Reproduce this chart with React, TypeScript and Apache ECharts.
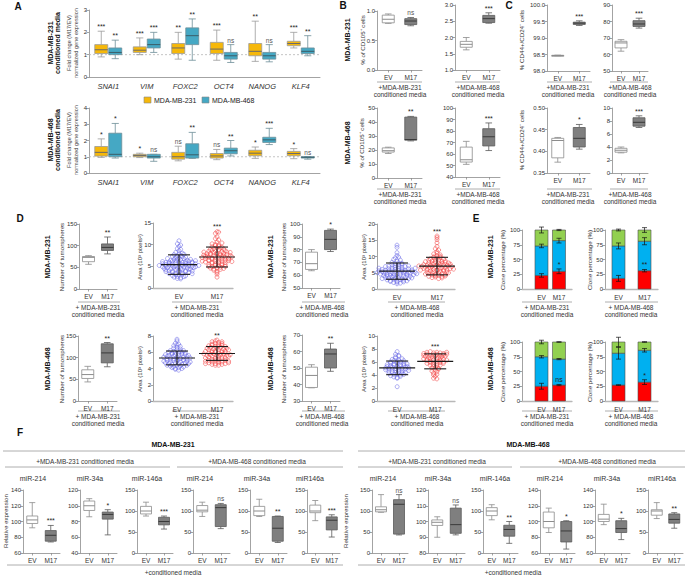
import React, { useEffect, useRef } from "react";
import * as echarts from "echarts";

const FONT = '"Liberation Sans", Arial, Helvetica, sans-serif';
const AX = "#8c8c8c";
const TXT = "#333333";
const YELLOW = "#F6B80A";
const BLUE = "#45A8C4";

// ---------- Panel A ----------
const genes = ["SNAI1", "VIM", "FOXC2", "OCT4", "NANOG", "KLF4"];
const aTickA1 = [0, 3, 1];
const a231Yellow = [[0.9, 1.05, 1.22, 1.45, 2.05], [1.0, 1.1, 1.2, 1.35, 1.75], [0.8, 1.05, 1.3, 1.5, 2.0], [0.75, 1.05, 1.25, 1.55, 2.1], [0.7, 0.95, 1.15, 1.5, 2.5], [1.3, 1.4, 1.5, 1.6, 2.0]];
const a231Blue = [[0.82, 1.0, 1.1, 1.3, 1.65], [1.1, 1.3, 1.45, 1.7, 2.0], [0.75, 1.45, 1.85, 2.2, 2.6], [0.65, 0.8, 0.95, 1.1, 1.45], [0.68, 0.8, 0.95, 1.1, 1.45], [0.95, 1.05, 1.15, 1.3, 1.85]];
const a231SigY = ["***", "***", "**", "***", "**", "***"];
const a231SigB = ["**", "***", "**", "ns", "ns", "**"];
const aTickA2 = [0, 4, 1];
const a468Yellow = [[0.96, 1.04, 1.27, 1.63, 2.1], [0.95, 1.0, 1.08, 1.15, 1.22], [0.75, 0.85, 1.0, 1.27, 1.65], [0.82, 0.92, 1.05, 1.2, 1.45], [0.9, 1.06, 1.22, 1.4, 1.6], [0.88, 1.06, 1.2, 1.33, 1.5]];
const a468Blue = [[0.92, 1.0, 1.15, 2.45, 3.05], [0.72, 0.92, 1.0, 1.15, 1.15], [0.9, 0.92, 1.12, 1.8, 2.5], [1.05, 1.18, 1.37, 1.53, 2.0], [1.75, 1.88, 2.04, 2.2, 2.75], [0.85, 0.92, 0.97, 1.0, 1.0]];
const a468SigY = ["*", "*", "ns", "ns", "*", "*"];
const a468SigB = ["*", "ns", "**", "**", "***", "ns"];

// ---------- Panels B, C (box: [min,q1,median,q3,max] for EV, M17) ----------
const groups = ["EV", "M17"];
const b231_231 = [[0.79, 0.8, 0.86, 0.93, 0.95], [0.75, 0.77, 0.83, 0.87, 0.89]];
const b231_468 = [[1.62, 1.7, 1.79, 1.88, 2.0], [2.44, 2.46, 2.58, 2.68, 2.76]];
const b468_231 = [[17.5, 18.5, 19.5, 21.5, 22], [26.5, 27, 27.5, 43.5, 44]];
const b468_468 = [[51, 53, 55, 66, 71], [63, 67, 75, 82, 87]];
const bSig = ["ns", "***", "**", "***"];
const c231_231 = [[98.46, 98.465, 98.47, 98.475, 98.48], [99.38, 99.41, 99.45, 99.48, 99.52]];
const c231_468 = [[62, 64, 67, 68, 69], [76, 77, 78.5, 80.5, 82]];
const c468_231 = [[0.375, 0.385, 0.425, 0.43, 0.432], [0.405, 0.41, 0.43, 0.455, 0.462]];
const c468_468 = [[3.1, 3.2, 3.5, 3.8, 4.0], [7.0, 7.2, 7.8, 8.5, 8.8]];
const cSig = ["***", "***", "*", "***"];

// ---------- Panel D ----------
const d231_231 = [[57, 63, 73, 75, 77], [81, 89, 96, 104, 120]];
const d231_468 = [[63.5, 64.5, 69, 78, 80], [78.5, 80, 88, 95, 96]];
const d468_231 = [[44, 52, 61, 72, 80], [79, 88, 111, 132, 135]];
const d468_468 = [[38, 38.2, 45.5, 50.5, 52], [48, 50, 58.5, 61.5, 65]];
const dBoxSig = ["**", "*", "**", "**"];

const area231_231EV = [5.2, 3.8, 6.1, 4.5, 7.3, 2.9, 5.6, 4.9, 6.8, 3.3, 5.0, 8.2, 4.2, 5.9, 6.4, 2.5, 4.7, 5.4, 7.0, 3.6, 6.0, 4.4, 5.7, 9.1, 3.1, 5.3, 6.6, 4.0, 7.7, 4.8, 5.5, 2.2, 6.2, 3.9, 5.1, 8.6, 4.6, 6.9, 3.4, 5.8, 7.4, 4.3, 6.3, 2.7, 5.0, 10.9, 4.1, 6.7, 3.7, 5.6, 7.9, 4.9, 6.0, 3.0, 5.2, 9.6, 4.5, 6.5, 3.5, 5.9, 7.2, 4.2, 5.4, 2.4, 6.1, 8.0, 4.8, 5.3, 3.2, 6.8, 4.6, 5.7, 10.2, 3.8, 6.4, 4.0, 5.1, 7.5, 2.8, 5.5, 4.4, 6.2, 8.9, 3.6, 5.8, 4.7, 6.6, 3.3, 5.0, 7.1, 4.3, 6.0, 2.6, 5.6, 9.9, 4.9, 6.3, 3.9, 5.2, 7.8, 2.1];
const area231_231M17 = [7.0, 5.4, 8.3, 6.2, 9.5, 4.1, 7.6, 6.8, 10.2, 5.0, 7.3, 8.9, 6.5, 11.4, 4.6, 7.9, 6.0, 8.5, 5.7, 9.1, 7.1, 12.6, 4.9, 6.7, 8.0, 5.2, 7.4, 9.8, 6.3, 3.9, 7.7, 8.7, 5.9, 10.6, 6.9, 7.2, 4.4, 8.2, 6.1, 9.3, 5.5, 7.5, 12.9, 6.6, 8.6, 3.2, 7.0, 5.8, 9.6, 6.4, 8.1, 4.7, 7.8, 10.0, 6.0, 7.3, 5.1, 8.8, 6.8, 11.8, 4.3, 7.6, 9.2, 5.6, 8.4, 6.2, 7.1, 2.5, 9.9, 5.3, 7.9, 6.5, 8.0, 4.8, 10.4, 6.9, 7.4, 5.9, 9.0, 3.6, 8.3, 6.7, 7.2, 11.1, 5.0, 8.6, 6.3, 7.7, 4.5, 9.4, 13.0, 6.1, 8.2, 5.4, 7.5];
const area231_468EV = [5.0, 3.2, 6.4, 4.1, 7.5, 2.3, 5.6, 4.6, 8.2, 3.6, 5.3, 6.9, 2.8, 4.9, 6.0, 3.9, 9.1, 5.2, 2.0, 4.4, 7.0, 5.8, 3.4, 6.5, 4.8, 10.3, 2.6, 5.5, 7.8, 3.7, 6.2, 4.2, 5.1, 8.6, 3.0, 5.9, 4.7, 13.5, 6.7, 2.4, 5.4, 4.0, 7.2, 3.3, 6.1, 4.5, 9.6, 2.1, 5.7, 4.9, 6.8, 3.8, 5.0, 11.2, 2.9, 6.3, 4.3, 7.4, 3.5, 5.6, 1.8, 8.0, 4.6, 6.6, 3.1, 5.3, 12.8, 4.8, 6.0, 2.7, 7.6, 4.1, 5.8, 3.6, 6.9, 2.2, 5.2, 8.9, 4.4, 6.2, 3.2, 5.5, 9.8, 4.0, 7.1, 2.5, 5.9, 3.9, 6.4, 1.6, 4.7, 7.9, 5.1, 3.4];
const area231_468M17 = [7.1, 4.6, 8.4, 5.8, 9.9, 3.9, 7.5, 6.3, 10.8, 5.1, 7.0, 8.8, 4.3, 6.7, 9.3, 5.5, 12.4, 7.2, 3.5, 6.0, 8.1, 6.6, 4.8, 9.6, 5.3, 15.8, 7.8, 4.1, 6.9, 8.6, 5.7, 11.5, 7.3, 3.7, 6.4, 9.0, 5.0, 7.7, 14.2, 6.1, 8.3, 4.5, 7.4, 10.1, 5.9, 6.8, 3.2, 8.9, 6.2, 13.1, 7.6, 4.9, 9.4, 5.4, 7.0, 11.0, 6.5, 8.0, 4.2, 7.9, 15.2, 5.6, 9.7, 6.6, 3.4, 8.5, 7.1, 4.7, 10.5, 6.0, 12.0, 5.2, 8.2, 6.9, 3.9, 7.4, 9.2, 5.8, 6.3, 16.3, 4.4, 8.7, 7.2, 5.0, 10.0, 6.8, 4.0, 8.0, 6.1, 7.7];
const area468_231EV = [5.2, 4.4, 6.0, 4.9, 5.7, 4.1, 5.4, 6.5, 4.7, 5.0, 5.9, 4.3, 5.5, 6.2, 4.6, 5.1, 7.4, 4.0, 5.6, 6.8, 4.8, 5.3, 6.1, 3.9, 5.8, 4.5, 5.0, 7.1, 4.9, 5.5, 6.3, 4.2, 5.2, 6.0, 4.7, 5.7, 3.8, 5.4, 6.6, 4.6, 5.1, 7.6, 4.4, 5.3, 5.9, 4.8, 6.4, 5.0, 4.3, 5.6, 6.9, 4.5, 5.2, 6.1, 4.1, 5.8, 4.9, 5.4, 7.0, 4.7, 5.5, 6.2, 4.2, 5.1, 5.7, 4.6, 6.0, 5.3, 4.0, 5.9, 6.7, 4.8, 5.2, 4.4, 5.6];
const area468_231M17 = [5.8, 4.9, 6.5, 5.3, 7.0, 4.6, 6.1, 5.6, 6.8, 5.0, 5.9, 7.3, 4.7, 6.3, 5.4, 6.6, 4.5, 5.7, 7.1, 5.1, 6.0, 6.9, 4.8, 5.5, 6.4, 7.4, 5.2, 6.2, 4.4, 5.8, 6.7, 5.0, 6.0, 7.2, 4.6, 5.6, 6.5, 5.3, 7.5, 4.9, 6.1, 5.7, 6.8, 4.7, 5.9, 6.3, 5.1, 7.0, 4.5, 5.5, 6.6, 5.4, 6.2, 4.8, 5.8, 7.3, 5.2, 6.4, 4.6, 6.0, 5.6, 6.9, 5.0, 6.1, 4.4, 5.7, 7.1, 5.3, 6.3, 4.9, 5.9, 6.7, 5.5, 4.7, 6.5];
const area468_468EV = [5.1, 4.3, 6.0, 4.8, 5.6, 3.9, 5.3, 6.4, 4.5, 5.0, 5.8, 4.1, 5.4, 6.2, 4.6, 7.2, 3.7, 5.2, 6.6, 4.9, 5.5, 2.2, 6.1, 4.4, 5.0, 7.6, 4.7, 5.7, 3.6, 5.3, 6.3, 4.2, 5.1, 5.9, 4.8, 6.8, 4.0, 5.4, 5.0, 4.5, 6.0, 3.8, 5.6, 7.0, 4.6, 5.2, 6.5, 4.3, 5.5, 4.9, 5.8, 3.5, 6.2, 5.1, 4.7, 6.9, 4.1, 5.3, 5.7, 4.4];
const area468_468M17 = [6.5, 5.1, 7.0, 5.8, 7.3, 4.6, 6.2, 6.9, 5.5, 7.5, 4.0, 6.7, 5.9, 7.2, 5.3, 6.4, 7.6, 4.8, 6.1, 7.0, 3.5, 6.6, 5.6, 7.4, 6.0, 4.3, 6.8, 7.1, 5.2, 6.3, 7.5, 5.7, 6.9, 3.8, 6.5, 7.2, 5.0, 6.1, 7.4, 5.9, 6.7, 4.5, 7.0, 6.2, 5.4, 7.3, 6.6, 3.4, 5.8, 7.1, 6.4, 4.9, 6.8, 7.5, 5.5, 6.0, 7.2, 4.1, 6.3, 6.9];
// mean, SD (EV, M17)
const areaMeanSd231_231 = [[5.4, 2.25], [7.15, 2.3]];
const areaMeanSd231_468 = [[5.5, 2.5], [7.05, 2.7]];
const areaMeanSd468_231 = [[5.3, 0.85], [5.85, 0.85]];
const areaMeanSd468_468 = [[5.1, 1.05], [6.1, 1.15]];
const dAreaSig = ["***", "***", "**", "***"];

// ---------- Panel E (red, blue, green segments in %, and their error bars) ----------
const e231_231Seg = [[23, 50, 27], [30, 52, 18]];
const e231_231Err = [[3, 3, 5], [4, 4, 1]];
const e231_468Seg = [[18, 55, 27], [31, 50, 19]];
const e231_468Err = [[5, 5, 1.5], [2, 6, 4]];
const e468_231Seg = [[25, 50, 25], [27, 44, 29]];
const e468_231Err = [[5, 2, 3], [1, 1, 0.5]];
const e468_468Seg = [[27, 54, 19], [32, 54, 14]];
const e468_468Err = [[0.5, 10, 8], [4, 3, 0.5]];
const eSig = ["*", "**", "ns", "*"];

// ---------- Panel F ----------
const fTitles = ["miR-214", "miR-34a", "miR-146a", "miR-214", "miR-34a", "miR146a"];
const f231Boxes = [
  [[92, 97.5, 102, 107, 124], [74, 75, 82.5, 88.5, 95]],
  [[86, 94, 100, 106, 109], [63, 83, 89, 92, 95]],
  [[88, 93, 100, 111, 121], [57, 67, 75, 85, 88]],
  [[87, 98, 102, 113, 121], [58, 63, 108, 115, 118]],
  [[87, 89, 100, 111, 128], [25, 28, 59, 87, 88]],
  [[77, 96, 100, 114, 125], [38, 55, 78, 86, 91]],
];
const f231Sig = ["***", "*", "***", "ns", "**", "***"];
const f231Axes = [[60, 140, 20], [40, 120, 20], [0, 150, 50], [0, 150, 50], [0, 150, 50], [0, 150, 50]];
const f468Boxes = [
  [[97, 98, 103, 110, 139], [43, 45, 116, 127, 139]],
  [[90, 97.5, 99.5, 101, 103], [91.5, 92.5, 98, 108.5, 110.5]],
  [[79, 89, 100, 108, 115], [23, 40, 56, 66, 75]],
  [[86, 92, 100, 112, 117], [65, 74, 88, 100, 101]],
  [[96, 100, 103, 109, 122], [77, 86, 91, 101, 104]],
  [[82, 90, 100, 103, 120], [59, 71, 80, 93, 96]],
];
const f468Sig = ["ns", "ns", "**", "*", "*", "**"];
const f468Axes = [[0, 150, 50], [80, 120, 10], [0, 150, 50], [60, 140, 20], [60, 140, 20], [0, 150, 50]];

// ---------- helpers ----------
const pick = (v: any, i: number) => (Array.isArray(v) ? v[i] : v);

function boxSeries(gi: number, boxes: number[][], cfg: any) {
  return {
    type: "custom", xAxisIndex: gi, yAxisIndex: gi, silent: true, clip: false, z: 3,
    data: boxes.map((b, i) => [i, ...b]),
    renderItem: (params: any, api: any) => {
      const i = params.dataIndex;
      const c = api.value(0);
      const Y = (k: number) => api.coord([c, api.value(k)])[1];
      const x = api.coord([c, api.value(3)])[0] + (cfg.offset || 0);
      const w = cfg.width, cw = w * 0.55;
      const yMin = Y(1), yQ1 = Y(2), yMed = Y(3), yQ3 = Y(4), yMax = Y(5);
      const stroke = pick(cfg.stroke, i), fill = pick(cfg.fill, i), med = pick(cfg.median, i);
      const ls = { stroke, lineWidth: 0.8 };
      const ch: any[] = [
        { type: "line", shape: { x1: x, y1: yMax, x2: x, y2: yQ3 }, style: ls },
        { type: "line", shape: { x1: x, y1: yQ1, x2: x, y2: yMin }, style: ls },
        { type: "line", shape: { x1: x - cw / 2, y1: yMax, x2: x + cw / 2, y2: yMax }, style: ls },
        { type: "line", shape: { x1: x - cw / 2, y1: yMin, x2: x + cw / 2, y2: yMin }, style: ls },
        { type: "rect", shape: { x: x - w / 2, y: yQ3, width: w, height: Math.max(yQ1 - yQ3, 1) }, style: { fill, stroke, lineWidth: 0.8 } },
        { type: "line", shape: { x1: x - w / 2, y1: yMed, x2: x + w / 2, y2: yMed }, style: { stroke: med, lineWidth: 1 } },
      ];
      const s = cfg.sig ? cfg.sig[i] : "";
      if (s) ch.push({ type: "text", x, y: yMax - 1, style: { text: s, align: "center", verticalAlign: "bottom", fontSize: s === "ns" ? 6.5 : 7, fontFamily: FONT, fill: s === "ns" ? "#555" : "#222" } });
      return { type: "group", children: ch };
    },
  };
}

function swarm(vals: number[], cx: number, bin: number, dx: number): number[][] {
  const rows = new Map<number, number[]>();
  vals.forEach((v) => {
    const k = Math.round(v / bin);
    if (!rows.has(k)) rows.set(k, []);
    rows.get(k)!.push(v);
  });
  const out: number[][] = [];
  rows.forEach((arr) => {
    const n = arr.length;
    arr.forEach((v, j) => out.push([cx + (j - (n - 1) / 2) * dx, v]));
  });
  return out;
}

function sdSeries(gi: number, items: number[][], sig: string) {
  return {
    type: "custom", xAxisIndex: gi, yAxisIndex: gi, silent: true, clip: false, z: 5,
    data: items,
    renderItem: (params: any, api: any) => {
      const xv = api.value(0), m = api.value(1), sd = api.value(2), top = api.value(3);
      const x = api.coord([xv, m])[0];
      const yM = api.coord([xv, m])[1], yH = api.coord([xv, m + sd])[1], yL = api.coord([xv, m - sd])[1], yT = api.coord([xv, top])[1];
      const ls = { stroke: "#1a1a1a", lineWidth: 1.1 };
      const ch: any[] = [
        { type: "line", shape: { x1: x, y1: yH, x2: x, y2: yL }, style: ls },
        { type: "line", shape: { x1: x - 11, y1: yH, x2: x + 11, y2: yH }, style: ls },
        { type: "line", shape: { x1: x - 11, y1: yL, x2: x + 11, y2: yL }, style: ls },
        { type: "line", shape: { x1: x - 18, y1: yM, x2: x + 18, y2: yM }, style: ls },
      ];
      if (params.dataIndex === 1) ch.push({ type: "text", x, y: yT - 1.5, style: { text: sig, align: "center", verticalAlign: "bottom", fontSize: 7, fontFamily: FONT, fill: "#222" } });
      return { type: "group", children: ch };
    },
  };
}

function stackSeries(gi: number, seg: number[][], err: number[][], sig: string) {
  const colors = ["#FF0000", "#00B0F0", "#92D050"];
  return {
    type: "custom", xAxisIndex: gi, yAxisIndex: gi, silent: true, clip: false, z: 3,
    data: seg.map((s, i) => [i, ...s, ...err[i]]),
    renderItem: (params: any, api: any) => {
      const xv = api.value(0);
      const x = api.coord([xv, 0])[0];
      const w = 13;
      const ch: any[] = [];
      let base = 0;
      const tops: number[] = [];
      for (let k = 0; k < 3; k++) {
        const v = api.value(1 + k);
        const y0 = api.coord([xv, base])[1], y1 = api.coord([xv, base + v])[1];
        ch.push({ type: "rect", shape: { x: x - w / 2, y: y1, width: w, height: y0 - y1 }, style: { fill: colors[k], stroke: "#4d4d4d", lineWidth: 0.6 } });
        base += v;
        tops.push(base);
      }
      const es = { stroke: "#111", lineWidth: 0.7 };
      for (let k = 0; k < 3; k++) {
        const e = api.value(4 + k);
        const yh = api.coord([xv, tops[k] + e])[1], yl = api.coord([xv, tops[k] - e])[1];
        ch.push({ type: "line", shape: { x1: x, y1: yh, x2: x, y2: yl }, style: es });
        ch.push({ type: "line", shape: { x1: x - 2.5, y1: yh, x2: x + 2.5, y2: yh }, style: es });
        ch.push({ type: "line", shape: { x1: x - 2.5, y1: yl, x2: x + 2.5, y2: yl }, style: es });
      }
      if (params.dataIndex === 1) {
        const ys = api.coord([xv, tops[0] + api.value(4) + 2])[1];
        ch.push({ type: "text", x, y: ys, style: { text: sig, align: "center", verticalAlign: "bottom", fontSize: 7, fontFamily: FONT, fill: "#222" } });
      }
      return { type: "group", children: ch };
    },
  };
}

function buildOption() {
  const grid: any[] = [], xAxis: any[] = [], yAxis: any[] = [], series: any[] = [], graphic: any[] = [];
  const addGrid = (r: number[], x: any, y: any) => {
    const gi = grid.length;
    grid.push({ left: r[0], top: r[1], width: r[2], height: r[3] });
    xAxis.push({ ...x, gridIndex: gi });
    yAxis.push({ ...y, gridIndex: gi });
    return gi;
  };
  const yVal = (min: number, max: number, interval: number, dec = 0) => ({
    type: "value", min, max, interval,
    axisLine: { show: true, onZero: false, lineStyle: { color: AX, width: 0.8 } },
    axisTick: { show: true, length: 2.5, lineStyle: { color: AX, width: 0.8 } },
    axisLabel: { fontSize: 6, color: TXT, margin: 2, fontFamily: FONT, formatter: (v: number) => v.toFixed(dec) },
    splitLine: { show: false },
  });
  const xCat = (data: string[], label: any = {}, tick = true) => ({
    type: "category", data,
    axisLine: { onZero: false, lineStyle: { color: AX, width: 0.8 } },
    axisTick: { show: tick, alignWithLabel: true, length: 2.5, lineStyle: { color: AX, width: 0.8 } },
    axisLabel: { fontSize: 6.5, color: TXT, margin: 4, fontFamily: FONT, ...label },
    splitLine: { show: false },
  });
  const xVal = (min: number, max: number) => ({
    type: "value", min, max,
    axisLine: { onZero: false, lineStyle: { color: "#b8b8b8", width: 1.3 } },
    axisTick: { show: false, customValues: [0, 1] },
    axisLabel: { customValues: [0, 1], formatter: (v: number) => (Math.abs(v) < 0.5 ? groups[0] : groups[1]), fontSize: 6.5, color: TXT, margin: 5, fontFamily: FONT },
    splitLine: { show: false },
  });
  const T = (x: number, y: number, text: string, o: any = {}) =>
    graphic.push({ type: "text", x, y, rotation: o.rot ? Math.PI / 2 : 0, silent: true, z: 10,
      style: { text, fontSize: o.size ?? 6.5, fontFamily: FONT, fontWeight: o.bold ? "bold" : "normal", fontStyle: o.italic ? "italic" : "normal", fill: o.color ?? TXT, align: o.align ?? "center", verticalAlign: "middle" } });
  const L = (x1: number, x2: number, y: number, color = "#9a9a9a") =>
    graphic.push({ type: "line", silent: true, shape: { x1, y1: y, x2, y2: y }, style: { stroke: color, lineWidth: 0.8 } });
  const caption = (cx: number, x1: number, x2: number, yl: number, label: string) => {
    L(x1, x2, yl);
    T(cx, yl + 5.5, label);
    T(cx, yl + 12, "conditioned media");
  };
  const evBox = { width: 12, fill: ["#ffffff", "#7f7f7f"], stroke: ["#8c8c8c", "#5a5a5a"], median: ["#8c8c8c", "#3a3a3a"] };

  // ----- A -----
  const aRef = (gi: number) => ({
    type: "custom", xAxisIndex: gi, yAxisIndex: gi, silent: true, z: 1, data: [[0, 1]],
    renderItem: (params: any, api: any) => {
      const cs = params.coordSys;
      const y = api.coord([0, api.value(1)])[1];
      return { type: "line", shape: { x1: cs.x, y1: y, x2: cs.x + cs.width, y2: y }, style: { stroke: "#b5b5b5", lineWidth: 0.8, lineDash: [2, 2] } };
    },
  });
  const aX = xCat(genes, { fontStyle: "italic", fontSize: 7.5, margin: 5 }, false);
  const gA1 = addGrid([89, 10, 231, 67], aX, yVal(aTickA1[0], aTickA1[1], aTickA1[2]));
  const gA2 = addGrid([89, 108, 231, 65], aX, yVal(aTickA2[0], aTickA2[1], aTickA2[2]));
  series.push(aRef(gA1), aRef(gA2));
  const aY = { width: 13, offset: -7, fill: YELLOW, stroke: "#9a9a9a", median: "#6a6a6a" };
  const aB = { width: 13, offset: 7, fill: BLUE, stroke: "#6d8e98", median: "#3b5d68" };
  series.push(boxSeries(gA1, a231Yellow, { ...aY, sig: a231SigY }), boxSeries(gA1, a231Blue, { ...aB, sig: a231SigB }));
  series.push(boxSeries(gA2, a468Yellow, { ...aY, sig: a468SigY }), boxSeries(gA2, a468Blue, { ...aB, sig: a468SigB }));
  T(18, 6, "A", { bold: true, size: 10, color: "#111" });
  T(50, 43, "MDA-MB-231", { rot: true, bold: true, size: 7, color: "#111" });
  T(57.5, 43, "conditioned media", { rot: true, bold: true, size: 7, color: "#111" });
  T(50, 140, "MDA-MB-468", { rot: true, bold: true, size: 7, color: "#111" });
  T(57.5, 140, "conditioned media", { rot: true, bold: true, size: 7, color: "#111" });
  for (const cy of [43, 140]) {
    T(69, cy, "Fold change (M17/EV)", { rot: true, size: 5.6, color: "#444" });
    T(75.5, cy, "normalized gene expression", { rot: true, size: 5.6, color: "#444" });
  }
  graphic.push({ type: "rect", shape: { x: 144, y: 97, width: 7, height: 6 }, style: { fill: YELLOW, stroke: "#888", lineWidth: 0.6 } });
  T(154, 100, "MDA-MB-231", { align: "left", size: 7, color: "#222" });
  graphic.push({ type: "rect", shape: { x: 202, y: 97, width: 7, height: 6 }, style: { fill: BLUE, stroke: "#888", lineWidth: 0.6 } });
  T(212, 100, "MDA-MB-468", { align: "left", size: 7, color: "#222" });

  // ----- B & C -----
  const bcX = xCat(groups);
  const gB1 = addGrid([377, 11, 45, 59], bcX, yVal(0, 1, 0.5, 1));
  const gB2 = addGrid([455, 5, 45, 65], bcX, yVal(1, 3, 0.5, 1));
  const gB3 = addGrid([377, 108, 45, 70], bcX, yVal(0, 50, 10));
  const gB4 = addGrid([455, 108, 45, 69], bcX, yVal(40, 100, 10));
  const gC1 = addGrid([547, 5, 43, 66], bcX, yVal(98, 100, 0.5, 1));
  const gC2 = addGrid([612, 5, 36, 66], bcX, yVal(50, 90, 10));
  const gC3 = addGrid([547, 108, 43, 65], bcX, yVal(0.35, 0.5, 0.05, 2));
  const gC4 = addGrid([612, 108, 36, 65], bcX, yVal(0, 10, 2));
  [b231_231, b231_468, b468_231, b468_468].forEach((d, k) => series.push(boxSeries([gB1, gB2, gB3, gB4][k], d, { ...evBox, sig: ["", bSig[k]] })));
  [c231_231, c231_468, c468_231, c468_468].forEach((d, k) => series.push(boxSeries([gC1, gC2, gC3, gC4][k], d, { ...evBox, sig: ["", cSig[k]] })));
  T(343, 5, "B", { bold: true, size: 10, color: "#111" });
  T(509, 5, "C", { bold: true, size: 10, color: "#111" });
  T(347, 40, "MDA-MB-231", { rot: true, bold: true, size: 7, color: "#111" });
  T(347, 143, "MDA-MB-468", { rot: true, bold: true, size: 7, color: "#111" });
  T(362, 40, "% of CD105\u207A cells", { rot: true, size: 6.2 });
  T(361, 143, "% of CD105\u207A cells", { rot: true, size: 6.2 });
  T(521, 40, "% CD44+/CD24\u207B cells", { rot: true, size: 6.2 });
  T(521, 140, "% CD44+/CD24\u207B cells", { rot: true, size: 6.2 });
  for (const yl of [82, 189]) {
    caption(400, 377, 422, yl, "+MDA-MB-231");
    caption(478, 455, 500, yl, "+MDA-MB-468");
    caption(568, 547, 592, yl, "+MDA-MB-231");
    caption(630, 610, 648, yl, "+MDA-MB-468");
  }

  // ----- D -----
  const scat = (gi: number, r: number[], xr: number[], yr: number[], ev: number[], m17: number[], ms: number[][], sig: string) => {
    const bin = (2.2 * (yr[1] - yr[0])) / r[3];
    const dx = (3.3 * (xr[1] - xr[0])) / r[2];
    series.push({ type: "scatter", xAxisIndex: gi, yAxisIndex: gi, silent: true, symbol: "circle", symbolSize: 4, z: 2,
      data: swarm(ev, 0, bin, dx), itemStyle: { color: "rgba(255,255,255,0)", borderColor: "#6C6CE6", borderWidth: 0.7 } });
    series.push({ type: "scatter", xAxisIndex: gi, yAxisIndex: gi, silent: true, symbol: "circle", symbolSize: 4, z: 2,
      data: swarm(m17, 1, bin, dx), itemStyle: { color: "rgba(255,255,255,0)", borderColor: "#F24848", borderWidth: 0.7 } });
    series.push(sdSeries(gi, [[0, ms[0][0], ms[0][1], Math.max(...ev)], [1, ms[1][0], ms[1][1], Math.max(...m17)]], sig));
  };
  const dBoxRects = [[79, 224, 38, 65], [302, 224, 38, 64], [78, 336, 39, 65], [302, 335, 38, 66]];
  const dBoxAxes = [[0, 150, 50], [50, 100, 10], [0, 150, 50], [30, 70, 10]];
  [d231_231, d231_468, d468_231, d468_468].forEach((d, k) => {
    const a = dBoxAxes[k];
    const gi = addGrid(dBoxRects[k], bcX, yVal(a[0], a[1], a[2]));
    series.push(boxSeries(gi, d, { ...evBox, sig: ["", dBoxSig[k]] }));
  });
  const dScRects = [[153, 223, 80, 65], [377, 224, 78, 65], [153, 336, 80, 65], [377, 336, 78, 65]];
  const dScX = [[-0.684, 1.42], [-0.5, 1.45], [-0.6, 1.4], [-0.53, 1.52]];
  const dScY = [[0, 15, 5], [0, 20, 5], [0, 8, 2], [0, 10, 2]];
  const dScVals = [[area231_231EV, area231_231M17], [area231_468EV, area231_468M17], [area468_231EV, area468_231M17], [area468_468EV, area468_468M17]];
  const dScMs = [areaMeanSd231_231, areaMeanSd231_468, areaMeanSd468_231, areaMeanSd468_468];
  dScRects.forEach((r, k) => {
    const gi = addGrid(r, xVal(dScX[k][0], dScX[k][1]), yVal(dScY[k][0], dScY[k][1], dScY[k][2]));
    scat(gi, r, dScX[k], dScY[k], dScVals[k][0], dScVals[k][1], dScMs[k], dAreaSig[k]);
  });
  T(20, 218, "D", { bold: true, size: 10, color: "#111" });
  for (const [cy, lab] of [[257, "MDA-MB-231"], [369, "MDA-MB-468"]] as [number, string][]) {
    T(47, cy, lab, { rot: true, bold: true, size: 7, color: "#111" });
    T(270, cy, lab, { rot: true, bold: true, size: 7, color: "#111" });
    T(61, cy, "Number of tumorspheres", { rot: true, size: 6.2 });
    T(283, cy, "Number of tumorspheres", { rot: true, size: 6.2 });
    T(140, cy, "Area (10\u00B3 pixels\u00B2)", { rot: true, size: 6 });
    T(364, cy, "Area (10\u00B3 pixels\u00B2)", { rot: true, size: 6 });
  }
  for (const yl of [302, 411]) {
    caption(98, 78, 120, yl, "+ MDA-MB-231");
    caption(197, 172, 222, yl, "+ MDA-MB-231");
    caption(322, 302, 345, yl, "+ MDA-MB-468");
    caption(417, 388, 445, yl, "+ MDA-MB-468");
  }

  // ----- E -----
  const eRects = [[522, 230, 50, 59], [605, 230, 53, 59], [522, 342, 50, 59], [605, 342, 53, 59]];
  const eX = [[-1.114, 1.743], [-0.519, 1.519], [-1.114, 1.743], [-0.519, 1.519]];
  const eSeg = [e231_231Seg, e231_468Seg, e468_231Seg, e468_468Seg];
  const eErr = [e231_231Err, e231_468Err, e468_231Err, e468_468Err];
  eRects.forEach((r, k) => {
    const gi = addGrid(r, xVal(eX[k][0], eX[k][1]), yVal(0, 100, 25));
    series.push(stackSeries(gi, eSeg[k], eErr[k], eSig[k]));
  });
  T(476, 218, "E", { bold: true, size: 10, color: "#111" });
  T(490, 257, "MDA-MB-231", { rot: true, bold: true, size: 7, color: "#111" });
  T(490, 369, "MDA-MB-468", { rot: true, bold: true, size: 7, color: "#111" });
  for (const cy of [260, 372]) {
    T(502, cy, "Clone percentage (%)", { rot: true, size: 6.2 });
    T(589, cy, "Clone percentage (%)", { rot: true, size: 6.2 });
  }
  for (const yl of [302, 411]) {
    caption(547, 522, 572, yl, "+ MDA-MB-231");
    caption(631, 605, 658, yl, "+ MDA-MB-468");
  }

  // ----- F -----
  const fTop = 490, fH = 63;
  const fLeftX = [23, 80, 137, 193, 250, 307];
  const fLeftW = [37, 37, 36, 37, 37, 33];
  const fRightX = [372, 428, 483, 540, 595, 648];
  const fRightW = [36, 37, 35, 35, 35, 35];
  const fLeftTitleX = [33, 90, 147, 200, 257, 310];
  const fRightTitleX = [383, 438, 495, 550, 607, 662];
  const fBox = { ...evBox, width: 11 };
  for (let k = 0; k < 6; k++) {
    const a = f231Axes[k];
    const gi = addGrid([fLeftX[k], fTop, fLeftW[k], fH], bcX, yVal(a[0], a[1], a[2]));
    series.push(boxSeries(gi, f231Boxes[k], { ...fBox, sig: ["", f231Sig[k]] }));
    const b = f468Axes[k];
    const gj = addGrid([fRightX[k], fTop, fRightW[k], fH], bcX, yVal(b[0], b[1], b[2]));
    series.push(boxSeries(gj, f468Boxes[k], { ...fBox, sig: ["", f468Sig[k]] }));
    T(fLeftTitleX[k], 478, fTitles[k], { size: 7 });
    T(fRightTitleX[k], 478, fTitles[k], { size: 7 });
  }
  T(20, 432, "F", { bold: true, size: 10, color: "#111" });
  T(173, 444, "MDA-MB-231", { bold: true, size: 7, color: "#111" });
  L(3, 343, 451);
  T(85, 461, "+MDA-MB-231 conditioned media", { size: 6.5 });
  T(257, 461, "+MDA-MB-468 conditioned media", { size: 6.5 });
  L(5, 170, 467);
  L(177, 343, 467);
  T(5, 521, "Relative expression", { rot: true, size: 6.2 });
  L(7, 343, 565);
  T(173, 572, "+conditioned media", { size: 6.5 });
  T(528, 444, "MDA-MB-468", { bold: true, size: 7, color: "#111" });
  L(358, 685, 451);
  T(437, 461, "+MDA-MB-231 conditioned media", { size: 6.5 });
  T(607, 461, "+MDA-MB-468 conditioned media", { size: 6.5 });
  L(358, 512, 467);
  L(520, 685, 467);
  T(345, 521, "Relative expression", { rot: true, size: 6.2 });
  L(358, 685, 565);
  T(513, 572, "+conditioned media", { size: 6.5 });

  return {
    animation: false,
    backgroundColor: "#ffffff",
    textStyle: { fontFamily: FONT },
    grid, xAxis, yAxis, series, graphic,
  };
}

export default function App() {
  const ref = useRef<HTMLDivElement>(null);
  useEffect(() => {
    const chart = echarts.init(ref.current!, null, { renderer: "svg" });
    chart.setOption(buildOption() as any);
    return () => chart.dispose();
  }, []);
  return <div ref={ref} style={{ position: "absolute", left: 0, top: 0, width: 685, height: 576, background: "#fff" }} />;
}
